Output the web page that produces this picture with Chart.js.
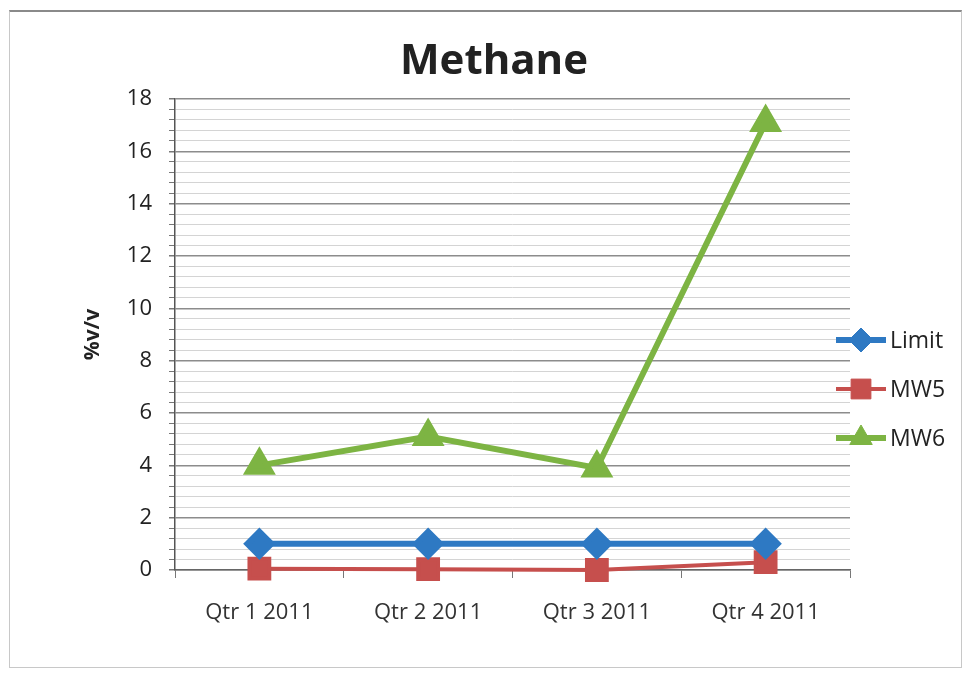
<!DOCTYPE html>
<html>
<head>
<meta charset="utf-8">
<script src="https://cdn.jsdelivr.net/npm/chart.js@4"></script>
<style>
	html, body { margin: 0; padding: 0; background: #fff; }
	#wrap { position: relative; width: 970px; height: 674px; }
	#frame {
		position: absolute; left: 9px; top: 10px; width: 953px; height: 658px;
		border: 1px solid #c8c8c8; border-top: 2px solid #8a8a8a; box-sizing: border-box;
	}
	canvas { position: absolute; left: 0; top: 0; }
</style>
</head>
<body>
<div id="wrap">
	<div id="frame"></div>
	<canvas id="methane-chart" width="970" height="674"></canvas>
</div>
<script>
const categories = ["Qtr 1 2011", "Qtr 2 2011", "Qtr 3 2011", "Qtr 4 2011"];
const limitValues = [1, 1, 1, 1];
const mw5Values = [0.05, 0.03, 0.0, 0.3];
const mw6Values = [4.0, 5.1, 3.9, 17.1];
const seriesNames = ["Limit", "MW5", "MW6"];
const chartTitle = "Methane";

const isMajor = (v) => Math.round(v * 10) % 20 === 0;

// title + legend drawn by hand (legend has a line through the marker)
const extras = {
	id: "extras",
	afterDraw(chart) {
		const ctx = chart.ctx;
		ctx.save();
		ctx.fillStyle = "#222";
		ctx.font = "bold 42px 'Open Sans'";
		ctx.textAlign = "center";
		ctx.textBaseline = "middle";
		ctx.fillText(chartTitle, 494, 62);
		ctx.restore();

		const x0 = 836;
		const rows = [340, 389, 438];
		chart.data.datasets.forEach((ds, i) => {
			const y = rows[i];
			ctx.save();
			ctx.strokeStyle = ds.borderColor;
			ctx.lineWidth = ds.borderWidth;
			ctx.beginPath();
			ctx.moveTo(x0, y);
			ctx.lineTo(x0 + 50, y);
			ctx.stroke();
			ctx.fillStyle = ds.backgroundColor;
			ctx.strokeStyle = ds.backgroundColor;
			ctx.lineWidth = 1;
			Chart.helpers.drawPoint(ctx, {
				pointStyle: ds.pointStyle,
				radius: ds.pointRadius,
				borderWidth: 1,
			}, x0 + 25, y);
			ctx.fillStyle = "#222";
			ctx.font = "23px 'Open Sans'";
			ctx.textBaseline = "middle";
			ctx.fillText(ds.label, x0 + 54, y + 1);
			ctx.restore();
		});
	},
};

const ctx = document.getElementById("methane-chart").getContext("2d");

new Chart(ctx, {
	type: "line",
	data: {
		labels: categories,
		datasets: [
			{
				label: seriesNames[0],
				data: limitValues,
				borderColor: "#2E79C3",
				backgroundColor: "#2E79C3",
				borderWidth: 6,
				pointStyle: "rectRot",
				pointRadius: 12,
				clip: false,
			},
			{
				label: seriesNames[1],
				data: mw5Values,
				borderColor: "#C64F4D",
				backgroundColor: "#C64F4D",
				borderWidth: 4,
				pointStyle: "rect",
				pointRadius: 14,
				clip: false,
			},
			{
				label: seriesNames[2],
				data: mw6Values,
				borderColor: "#7DB443",
				backgroundColor: "#7DB443",
				borderWidth: 6,
				pointStyle: "triangle",
				pointRadius: 13,
				clip: false,
			},
		],
	},
	options: {
		responsive: false,
		animation: false,
		layout: {
			padding: { left: 18, right: 120, top: 99, bottom: 0 },
		},
		elements: {
			line: { tension: 0 },
			point: { borderWidth: 1, hoverRadius: 12 },
		},
		scales: {
			x: {
				offset: true,
				afterFit: (scale) => { scale.height = 104; },
				grid: {
					offset: true,
					drawOnChartArea: false,
					tickLength: 8,
					tickColor: "#777",
				},
				border: { color: "#666", width: 1.5 },
				ticks: {
					padding: 22,
					color: "#333",
					font: { family: "'Open Sans'", size: 22 },
				},
			},
			y: {
				min: 0,
				max: 18,
				afterFit: (scale) => { scale.width = 157; },
				ticks: {
					stepSize: 0.4,
					autoSkip: false,
					padding: 17,
					color: "#222",
					font: { family: "'Open Sans'", size: 22 },
					callback: (v) => (isMajor(v) ? String(Math.round(v)) : ""),
				},
				grid: {
					color: (c) => (isMajor(c.tick.value) ? "#8c8c8c" : "#d4d4d4"),
					lineWidth: (c) => (isMajor(c.tick.value) ? 1.5 : 1),
					tickLength: 6,
					tickColor: "#777",
				},
				border: { color: "#555", width: 1.5 },
				title: {
					display: true,
					text: "%v/v",
					color: "#222",
					font: { family: "'Open Sans'", size: 21, weight: "bold" },
					padding: { top: 62, bottom: 0 },
				},
			},
		},
		plugins: {
			legend: { display: false },
			tooltip: { enabled: false },
			title: { display: false },
		},
	},
	plugins: [extras],
});
</script>
</body>
</html>
